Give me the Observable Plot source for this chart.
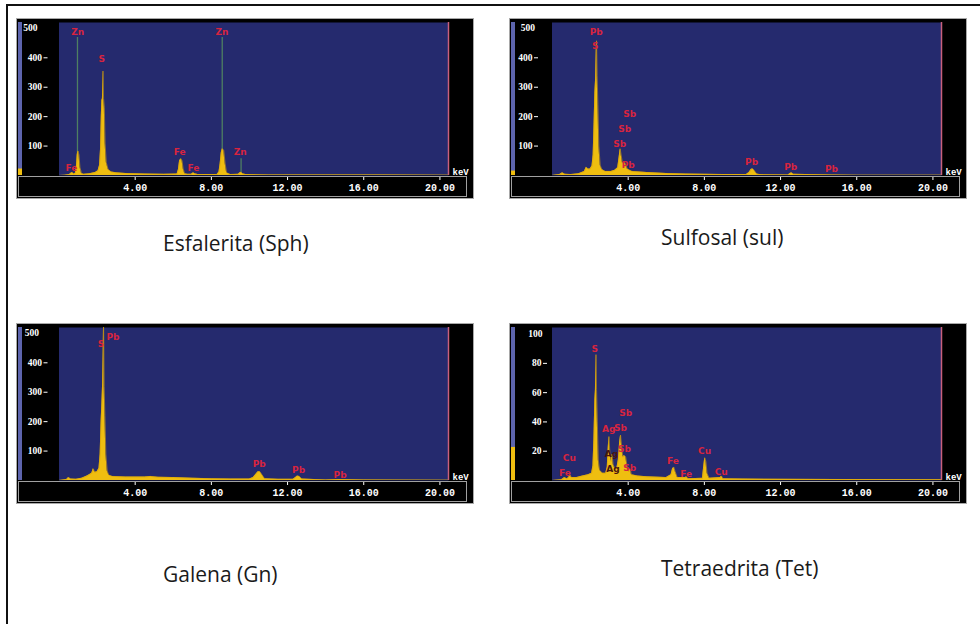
<!DOCTYPE html>
<html><head><meta charset="utf-8">
<script src="https://cdn.jsdelivr.net/npm/d3@7"></script>
<script src="https://cdn.jsdelivr.net/npm/@observablehq/plot@0.6"></script>
<style>
html,body{margin:0;padding:0;background:#fff;width:980px;height:624px;overflow:hidden;position:relative;}
#frame{position:absolute;left:6px;top:4px;width:980px;height:640px;border-left:2px solid #111;border-top:2px solid #111;}
.panel{position:absolute;width:456px;height:179px;border:1px solid #a8a8a8;background:#000;}
.panel svg{display:block;}
.strip{position:absolute;left:1px;top:157px;width:447px;height:19px;border:1px solid #a0a0a0;pointer-events:none;}
.caption{position:absolute;font-family:"Open Sans",sans-serif;font-size:21px;color:#1a1a1a;white-space:nowrap;line-height:normal;}
</style></head><body>
<div id="frame"></div>
<div class="panel" id="p1" style="left:16px;top:18px"><div class="strip"></div></div>
<div class="panel" id="p2" style="left:509px;top:18px"><div class="strip"></div></div>
<div class="panel" id="p3" style="left:16px;top:323px"><div class="strip"></div></div>
<div class="panel" id="p4" style="left:509px;top:323px"><div class="strip"></div></div>
<div class="caption" style="left:163px;top:229px">Esfalerita (Sph)</div>
<div class="caption" style="left:661px;top:223px">Sulfosal (sul)</div>
<div class="caption" style="left:163px;top:560px">Galena (Gn)</div>
<div class="caption" style="left:661px;top:554px">Tetraedrita (Tet)</div>
<script>
// ---------- data ----------
const captions = ["Esfalerita (Sph)", "Sulfosal (sul)", "Galena (Gn)", "Tetraedrita (Tet)"];
const xTicks = [4, 8, 12, 16, 20];
const xMax = 20.45;
const unitLabel = "keV";
const countTicks500 = [100, 200, 300, 400];
const countTop500 = [500];
const countTicks100 = [20, 40, 60, 80];
const countTop100 = [100];

// Esfalerita (Sph) spectrum [keV, counts]
const sphSpectrum = [[0,0],[0.3,1],[0.55,3],[0.62,8],[0.7,10],[0.78,5],[0.86,8],[0.92,35],[0.96,72],[1.0,83],[1.05,70],[1.1,28],[1.18,7],[1.3,4],[1.6,6],[1.9,10],[2.05,16],[2.13,35],[2.18,90],[2.22,200],[2.25,255],[2.28,262],[2.31,355],[2.34,262],[2.38,230],[2.42,110],[2.48,45],[2.58,20],[2.75,12],[3.0,9],[3.5,7],[4.5,5],[5.5,4],[6.2,5],[6.27,20],[6.33,50],[6.4,57],[6.46,50],[6.52,22],[6.6,6],[6.75,4],[6.95,4],[7.0,7],[7.06,9],[7.13,6],[7.3,3],[8.3,3],[8.4,12],[8.46,40],[8.52,78],[8.58,91],[8.65,85],[8.72,42],[8.8,9],[9.0,3],[9.42,4],[9.5,9],[9.57,11],[9.64,6],[9.8,3],[11,2],[14,2],[17,2],[20.45,1]];
const sphMarkers = [[0.97,469],[8.57,469],[9.56,57]];
const sphLabels = [[0.65,26,"Fe"],[0.98,486,"Zn"],[2.25,395,"S"],[6.33,80,"Fe"],[7.06,26,"Fe"],[8.55,486,"Zn"],[9.51,80,"Zn"]];
const sphLeftBar = 22;

// Sulfosal (sul)
const sulSpectrum = [[0,0],[0.4,3],[0.55,9],[0.68,4],[1.0,3],[1.4,6],[1.7,14],[1.8,28],[1.9,22],[2.0,22],[2.1,32],[2.16,70],[2.21,180],[2.25,280],[2.29,330],[2.32,420],[2.34,458],[2.37,340],[2.41,240],[2.46,100],[2.53,35],[2.62,20],[2.8,14],[3.1,14],[3.3,18],[3.45,26],[3.52,60],[3.58,91],[3.63,70],[3.7,42],[3.78,44],[3.86,40],[3.95,22],[4.2,14],[5,10],[6,7],[7,5],[8,4],[9,3],[10.2,3],[10.35,10],[10.45,20],[10.53,23],[10.62,17],[10.75,5],[10.9,3],[12.4,2],[12.5,7],[12.58,9],[12.68,4],[14.7,2],[16,1],[20.45,1]];
const sulLabels = [[2.32,489,"Pb"],[2.27,439,"S"],[4.08,210,"Sb"],[3.82,159,"Sb"],[3.56,108,"Sb"],[4.0,35,"Pb"],[10.48,47,"Pb"],[12.53,30,"Pb"],[14.67,23,"Pb"]];
const sulLeftBar = 15;

// Galena (Gn)
const gnSpectrum = [[0,0],[0.4,3],[0.5,10],[0.62,5],[0.9,4],[1.2,8],[1.5,16],[1.72,25],[1.8,40],[1.88,28],[2.0,30],[2.1,42],[2.16,90],[2.21,200],[2.25,260],[2.29,330],[2.32,440],[2.34,540],[2.37,320],[2.41,220],[2.46,90],[2.53,32],[2.62,18],[2.8,14],[3.5,12],[4.5,12],[4.8,14],[5.2,11],[6,10],[7,8],[8,6],[9,5],[10.0,5],[10.2,10],[10.35,22],[10.45,30],[10.55,30],[10.65,20],[10.8,6],[11.5,4],[12.3,4],[12.42,10],[12.52,15],[12.62,14],[12.75,5],[14,2],[14.7,3],[16,2],[20.45,1]];
const gnLabels = [[2.21,462,"S"],[2.83,488,"Pb"],[10.51,56,"Pb"],[12.58,37,"Pb"],[14.76,20,"Pb"]];
const gnLeftBar = 0;

// Tetraedrita (Tet)
const tetSpectrum = [[0,0],[0.5,0.5],[0.66,2],[0.78,1.2],[0.88,2],[0.94,4],[1.02,2],[1.3,2],[1.6,3],[1.9,4],[2.08,5],[2.15,10],[2.2,28],[2.25,55],[2.28,62],[2.31,86],[2.34,62],[2.38,40],[2.43,14],[2.5,7],[2.65,5],[2.82,5],[2.9,9],[2.95,22],[2.99,30],[3.04,19],[3.1,13],[3.15,18],[3.21,11],[3.3,8],[3.4,8],[3.48,14],[3.55,26],[3.6,31],[3.65,24],[3.72,16],[3.8,17],[3.87,16],[3.95,9],[4.03,6],[4.1,8],[4.17,4],[4.5,3],[5,2.5],[6,2],[6.25,4],[6.33,8],[6.4,9],[6.47,6],[6.58,2],[7.0,2],[7.06,2.5],[7.15,1.2],[7.9,1.5],[7.96,9],[8.02,15.5],[8.08,13],[8.14,5],[8.25,1.5],[8.84,2],[8.9,3],[8.98,1.2],[10,1],[15,0.7],[20.45,0.5]];
const tetLabels = [[0.68,5.3,"Fe"],[0.91,15.5,"Cu"],[2.25,89.7,"S"],[2.98,35.4,"Ag"],[3.6,35.6,"Sb"],[3.87,46.3,"Sb"],[3.8,21.2,"Sb"],[4.08,8.7,"Sb"],[6.35,13.2,"Fe"],[7.05,4.1,"Fe"],[8.01,20.1,"Cu"],[8.88,5.9,"Cu"]];
const tetDarkLabels = [[3.12,17.8,"Ag"],[3.2,7.7,"Ag"]];
const tetLeftBar = 22.6;

// ---------- drawing ----------
const BLUE = "#252a6e", GOLD = "#efbe10", RED = "#d8243f";
const serif = "'Liberation Serif', serif", mono = "'Liberation Mono', monospace", sans = "'DejaVu Sans', sans-serif";

function drawPanel(id, cfg) {
  const spec = cfg.spectrum.map(([x, y]) => ({x, y}));
  const labs = cfg.labels.map(([x, y, t]) => ({x, y, t}));
  const dark = (cfg.dark || []).map(([x, y, t]) => ({x, y, t}));
  const marks = (cfg.markers || []).map(([x, y]) => ({x, y}));
  const svg = Plot.plot({
    width: 456, height: 179,
    marginLeft: 41.5, marginRight: 25, marginTop: 3, marginBottom: 23,
    x: {domain: [0, xMax]},
    y: {domain: [0, cfg.yMax]},
    style: {background: "#000", color: "#fff", overflow: "visible"},
    marks: [
      Plot.frame({fill: BLUE, stroke: "none"}),
      Plot.rect([cfg.yMax], {x1: 0, x2: 0, y1: 0, y2: d => d, dx: -38.5, insetLeft: -2, insetRight: -2, fill: "#5d64ad"}),
      Plot.rect([cfg.leftBar], {x1: 0, x2: 0, y1: 0, y2: d => d, dx: -38.5, insetLeft: -2, insetRight: -2, fill: GOLD}),
      Plot.ruleX(marks, {x: "x", y1: 0, y2: "y", stroke: "#4e7f62", strokeWidth: 1.3, clip: true}),
      Plot.areaY(spec, {x: "x", y: "y", fill: GOLD, clip: true}),
      Plot.lineY(spec, {x: "x", y: "y", stroke: "#d9a106", strokeWidth: 0.6, clip: true}),
      Plot.ruleX([xMax], {stroke: "#c9607c", strokeWidth: 1.5}),
      Plot.text(labs, {x: "x", y: "y", text: "t", fill: RED, fontSize: 9, fontFamily: sans, fontWeight: "bold"}),
      Plot.text(dark, {x: "x", y: "y", text: "t", fill: "#4a1410", fontSize: 9, fontFamily: sans, fontWeight: "bold"}),
      Plot.axisY(cfg.ticks, {tickSize: 4, tickPadding: 2, dx: cfg.tickDx, tickFormat: "d", fontSize: 9.5, fontFamily: serif, fontWeight: "bold", label: null}),
      Plot.axisY(cfg.top, {tickSize: 0, tickPadding: 0, dx: cfg.topDx, tickFormat: "d", fontSize: 9.5, fontFamily: serif, fontWeight: "bold", label: null}),
      Plot.axisX(xTicks, {tickSize: 4, tickPadding: 3, dy: 1, tickFormat: d3.format(".2f"), fontSize: 10, fontFamily: mono, fontWeight: "bold", label: null}),
      Plot.text([unitLabel], {frameAnchor: "bottom-right", text: d => d, textAnchor: "start", lineAnchor: "bottom", dx: 4, dy: -1, fill: "#fff", fontSize: 9, fontFamily: mono, fontWeight: "bold"})
    ]
  });
  const host = document.getElementById(id);
  host.insertBefore(svg, host.firstChild);
}

drawPanel("p1", {spectrum: sphSpectrum, labels: sphLabels, markers: sphMarkers, yMax: 520, ticks: countTicks500, top: countTop500, tickDx: -11, topDx: -21.5, leftBar: sphLeftBar});
drawPanel("p2", {spectrum: sulSpectrum, labels: sulLabels, yMax: 520, ticks: countTicks500, top: countTop500, tickDx: -13.5, topDx: -17, leftBar: sulLeftBar});
drawPanel("p3", {spectrum: gnSpectrum, labels: gnLabels, yMax: 520, ticks: countTicks500, top: countTop500, tickDx: -11, topDx: -20, leftBar: gnLeftBar});
drawPanel("p4", {spectrum: tetSpectrum, labels: tetLabels, dark: tetDarkLabels, yMax: 104.5, ticks: countTicks100, top: countTop100, tickDx: -4.5, topDx: -9.5, leftBar: tetLeftBar});
</script>
</body></html>
